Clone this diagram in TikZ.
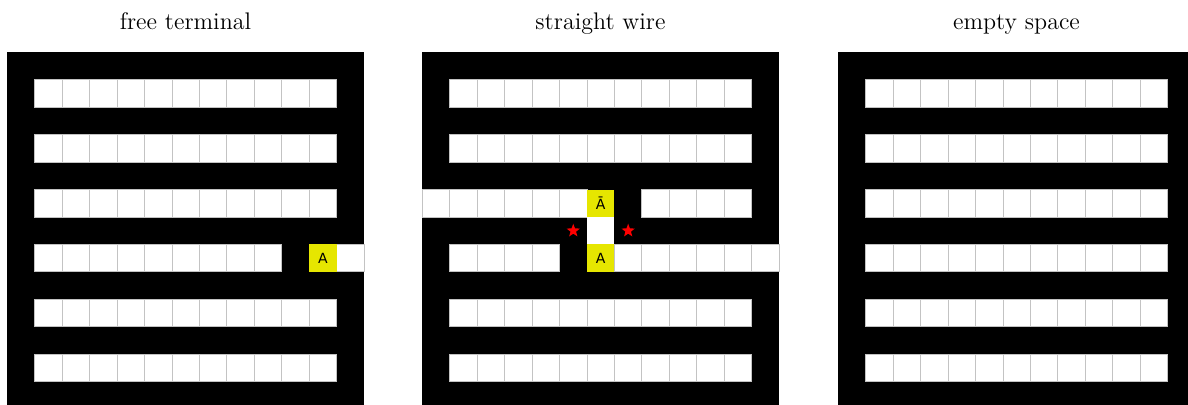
\documentclass[tikz,border=0pt]{standalone}
\usepackage{fontspec}
\newfontfamily\labfont{DejaVu Sans}
\usetikzlibrary{shapes.geometric}
\definecolor{ylw}{RGB}{230,230,0}
\definecolor{gridgray}{RGB}{195,195,195}
\begin{document}
\begin{tikzpicture}[x=0.5pt,y=-0.5pt,
  cellw/.style={fill=white,draw=gridgray,line width=0.5pt},
  celly/.style={fill=ylw,draw=none},
  cellb/.style={fill=black,draw=none},
  lab/.style={font=\labfont\fontsize{7}{8}\selectfont,inner sep=0pt},
  ttl/.style={font=\fontsize{12}{14}\selectfont,anchor=base},
  redstar/.style={star,star points=5,star point ratio=2.4,fill=red,draw=none,inner sep=0pt,minimum size=7pt},
  panel/.style={x=13.725pt,y=-13.725pt}]
\useasboundingbox (0,0) rectangle (1188,404);
\clip (0,0) rectangle (1188,404);

% titles
\node[ttl] (t1) at (185.5,29) {free terminal};
\node[ttl] (t2) at (600.5,29) {straight wire};
\node[ttl] (t3) at (1016.5,29) {empty space};

% ---------- panel 1: free terminal ----------
\begin{scope}[xshift=3.65pt,yshift=-26.15pt,panel]
  \fill[black] (0,0) rectangle (13,13);
  \foreach \j in {1,3,5,9,11} {
    \foreach \i in {1,...,11} { \path[cellw] (\i,\j) rectangle ++(1,1); }
  }
  \foreach \i in {1,...,9} { \path[cellw] (\i,7) rectangle ++(1,1); }
  \path[cellw] (12,7) rectangle ++(1,1);
  \path[celly] (11,7) rectangle ++(1,1);
  \node[lab] (a1) at (11.5,7.5) {A};
\end{scope}

% ---------- panel 2: straight wire ----------
\begin{scope}[xshift=211.15pt,yshift=-26.15pt,panel]
  \fill[black] (0,0) rectangle (13,13);
  \foreach \j in {1,3,9,11} {
    \foreach \i in {1,...,11} { \path[cellw] (\i,\j) rectangle ++(1,1); }
  }
  % row 5
  \foreach \i in {0,...,5} { \path[cellw] (\i,5) rectangle ++(1,1); }
  \foreach \i in {8,...,11} { \path[cellw] (\i,5) rectangle ++(1,1); }
  \path[celly] (6,5) rectangle ++(1,1);
  \node[lab] (abar) at (6.5,5.5) {Ā};
  % row 6
  \path[fill=white] (6,6) rectangle ++(1,1);
  \node[redstar] (s1) at (5.5,6.5) {};
  \node[redstar] (s2) at (7.5,6.5) {};
  % row 7
  \foreach \i in {1,...,4} { \path[cellw] (\i,7) rectangle ++(1,1); }
  \foreach \i in {7,...,12} { \path[cellw] (\i,7) rectangle ++(1,1); }
  \path[celly] (6,7) rectangle ++(1,1);
  \node[lab] (a2) at (6.5,7.5) {A};
\end{scope}

% ---------- panel 3: empty space ----------
\begin{scope}[xshift=419.15pt,yshift=-26.15pt,panel]
  \fill[black] (0,0) rectangle (13,13);
  \foreach \j in {1,3,5,7,9,11} {
    \foreach \i in {1,...,11} { \path[cellw] (\i,\j) rectangle ++(1,1); }
  }
\end{scope}
\end{tikzpicture}
\end{document}
